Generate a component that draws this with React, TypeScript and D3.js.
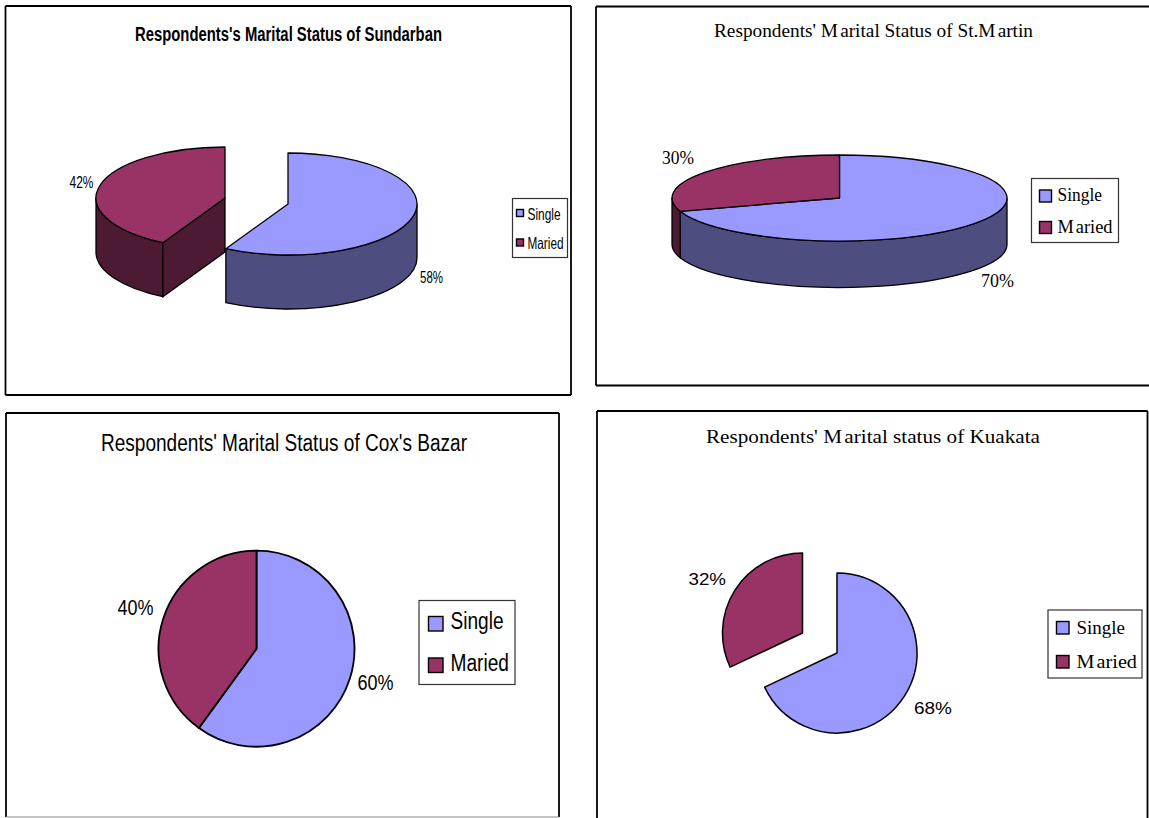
import React from "react";
import * as d3 from "d3";

const categories = ["Single", "Maried"];
const sundarbanValues = [58, 42];
const stMartinValues = [70, 30];
const coxsBazarValues = [60, 40];
const kuakataValues = [68, 32];

const SERIF = "'Liberation Serif', serif";
const SANS = "'Liberation Sans', sans-serif";
const TOP_COLORS = ["#9999ff", "#993366"];
const SIDE_COLORS = ["#4d4d80", "#4d1a33"];

type Label = { x: number; y: number; w: number };
type Legend = {
  box: [number, number, number, number];
  swatch: [number, number, number];
  swatchY: [number, number];
  textX: number;
  baselines: [number, number];
  widths: [number, number];
  size: number;
};
type Side = { stroke: string; width: number } | null;
type Panel = {
  values: number[];
  title: string;
  titleBox: { x: number; y: number; w: number; size: number; weight?: number };
  font: string;
  labelFont: string;
  labelSize: number;
  labels: [Label, Label];
  legendFont: string;
  legend: Legend;
  frame: { left: number; top: number; right: number; bottom: number };
  rightSide: Side;
  bottomSide: Side;
  centers: [[number, number], [number, number]];
  rx: number;
  ry: number;
  depth: number;
  stroke: number;
};

const SOLID: Side = { stroke: "#000", width: 1.8 };

const panels: Panel[] = [
  {
    values: sundarbanValues,
    title: "Respondents's Marital Status of Sundarban",
    titleBox: { x: 135, y: 41, w: 307, size: 19.5, weight: 700 },
    font: SANS,
    labelFont: SANS,
    labelSize: 16,
    labels: [
      { x: 420, y: 282.5, w: 23 },
      { x: 69.5, y: 188, w: 24 },
    ],
    legendFont: SANS,
    legend: {
      box: [512.5, 198.5, 55, 59],
      swatch: [516.5, 0, 7],
      swatchY: [209.5, 239],
      textX: 527.5,
      baselines: [219.5, 249],
      widths: [33, 36],
      size: 16.5,
    },
    frame: { left: 5.5, top: 6, right: 571, bottom: 395 },
    rightSide: SOLID,
    bottomSide: SOLID,
    centers: [
      [288, 204],
      [225, 198],
    ],
    rx: 129,
    ry: 51,
    depth: 54,
    stroke: 1.3,
  },
  {
    values: stMartinValues,
    title: "Respondents' Marital Status of St.Martin",
    titleBox: { x: 714, y: 36.5, w: 319, size: 18 },
    font: SERIF,
    labelFont: SERIF,
    labelSize: 18,
    labels: [
      { x: 981, y: 287, w: 33 },
      { x: 662, y: 164, w: 32 },
    ],
    legendFont: SERIF,
    legend: {
      box: [1031.5, 178.5, 87, 64],
      swatch: [1039.5, 0, 12],
      swatchY: [190, 221.5],
      textX: 1057.5,
      baselines: [201, 232.5],
      widths: [44.5, 55],
      size: 19,
    },
    frame: { left: 596, top: 6.5, right: 1149, bottom: 385.5 },
    rightSide: null,
    bottomSide: SOLID,
    centers: [
      [839.5, 198],
      [839.5, 198],
    ],
    rx: 167.5,
    ry: 43,
    depth: 46.5,
    stroke: 1.3,
  },
  {
    values: coxsBazarValues,
    title: "Respondents' Marital Status of Cox's Bazar",
    titleBox: { x: 101, y: 451, w: 366, size: 23 },
    font: SANS,
    labelFont: SANS,
    labelSize: 22,
    labels: [
      { x: 357.5, y: 690, w: 36 },
      { x: 117.5, y: 615, w: 36 },
    ],
    legendFont: SANS,
    legend: {
      box: [419, 600.5, 96, 84],
      swatch: [428.5, 0, 14.5],
      swatchY: [616.5, 658],
      textX: 450.5,
      baselines: [628.5, 670.5],
      widths: [53, 58.5],
      size: 23,
    },
    frame: { left: 6, top: 413, right: 559, bottom: 817 },
    rightSide: SOLID,
    bottomSide: { stroke: "#888", width: 1 },
    centers: [
      [256.5, 648.7],
      [256.5, 648.7],
    ],
    rx: 98,
    ry: 98,
    depth: 0,
    stroke: 1.8,
  },
  {
    values: kuakataValues,
    title: "Respondents' Marital status of Kuakata",
    titleBox: { x: 706, y: 443, w: 334, size: 18 },
    font: SERIF,
    labelFont: SANS,
    labelSize: 17,
    labels: [
      { x: 914, y: 714, w: 38 },
      { x: 688.5, y: 585, w: 37.5 },
    ],
    legendFont: SERIF,
    legend: {
      box: [1048, 610, 94, 68],
      swatch: [1056.5, 0, 12.5],
      swatchY: [621.5, 655.5],
      textX: 1076.5,
      baselines: [633.5, 667.5],
      widths: [48.5, 60.5],
      size: 19,
    },
    frame: { left: 597, top: 411, right: 1147.5, bottom: 818 },
    rightSide: SOLID,
    bottomSide: null,
    centers: [
      [837, 653],
      [802.5, 633],
    ],
    rx: 80,
    ry: 80,
    depth: 0,
    stroke: 1.5,
  },
];

// Point on the rim of an elliptical pie; the angle runs clockwise from twelve o'clock.
function rim(c: [number, number], rx: number, ry: number, a: number): [number, number] {
  return [c[0] + rx * Math.sin(a), c[1] - ry * Math.cos(a)];
}

function topPath(c: [number, number], rx: number, ry: number, a0: number, a1: number) {
  const [x0, y0] = rim(c, rx, ry, a0);
  const [x1, y1] = rim(c, rx, ry, a1);
  const large = a1 - a0 > Math.PI ? 1 : 0;
  return `M${c[0]},${c[1]}L${x0},${y0}A${rx},${ry} 0 ${large} 1 ${x1},${y1}Z`;
}

// Outer wall of the slice: only the part of the rim that faces the viewer.
function wallPath(c: [number, number], rx: number, ry: number, depth: number, a0: number, a1: number) {
  const from = Math.max(a0, Math.PI / 2);
  const to = Math.min(a1, (3 * Math.PI) / 2);
  if (to <= from) return null;
  const [x0, y0] = rim(c, rx, ry, from);
  const [x1, y1] = rim(c, rx, ry, to);
  return (
    `M${x0},${y0}A${rx},${ry} 0 0 1 ${x1},${y1}` +
    `L${x1},${y1 + depth}A${rx},${ry} 0 0 0 ${x0},${y0 + depth}Z`
  );
}

// Cut face of a pulled-out slice, seen where it turns towards the viewer.
function facePath(c: [number, number], rx: number, ry: number, depth: number, a: number) {
  const [x, y] = rim(c, rx, ry, a);
  return `M${c[0]},${c[1]}L${x},${y}L${x},${y + depth}L${c[0]},${c[1] + depth}Z`;
}

// Fixed-width text, with the small gap this typesetting leaves after a capital M.
function FittedText(props: {
  x: number;
  y: number;
  w: number;
  size: number;
  font: string;
  weight?: number;
  text: string;
  spacedM?: boolean;
}) {
  const { x, y, w, size, font, weight, text, spacedM } = props;
  const parts = spacedM ? text.split(/(?<=M)/) : [text];
  return (
    <text
      x={x}
      y={y}
      textLength={w}
      lengthAdjust="spacingAndGlyphs"
      fontFamily={font}
      fontSize={size}
      fontWeight={weight ?? 400}
      fill="#000"
    >
      {parts.map((p, i) => (
        <tspan key={i} dx={i ? 2 : 0}>
          {p}
        </tspan>
      ))}
    </text>
  );
}

function Frame({ p }: { p: Panel }) {
  const { left, top, right, bottom } = p.frame;
  return (
    <g fill="none">
      <line x1={left} y1={top} x2={right} y2={top} stroke="#000" strokeWidth={SOLID!.width} />
      <line x1={left} y1={top} x2={left} y2={bottom} stroke="#000" strokeWidth={SOLID!.width} />
      {p.rightSide && (
        <line x1={right} y1={top} x2={right} y2={bottom} stroke={p.rightSide.stroke} strokeWidth={p.rightSide.width} />
      )}
      {p.bottomSide && (
        <line x1={left} y1={bottom} x2={right} y2={bottom} stroke={p.bottomSide.stroke} strokeWidth={p.bottomSide.width} />
      )}
    </g>
  );
}

function PieChart({ p }: { p: Panel }) {
  const slices = d3
    .pie<number>()
    .sort(null)
    .value((d) => d)(p.values);
  const circular = p.depth === 0;
  const pullsApart = p.centers[0][0] !== p.centers[1][0];
  const { legend } = p;
  const spaced = p.font === SERIF;

  return (
    <g>
      <Frame p={p} />
      {!circular &&
        slices.map((s, i) => {
          const wall = wallPath(p.centers[i], p.rx, p.ry, p.depth, s.startAngle, s.endAngle);
          return wall ? (
            <path key={i} d={wall} fill={SIDE_COLORS[i]} stroke="#000" strokeWidth={p.stroke} />
          ) : null;
        })}
      {!circular && pullsApart && (
        <path
          d={facePath(p.centers[1], p.rx, p.ry, p.depth, slices[1].startAngle)}
          fill={SIDE_COLORS[1]}
          stroke="#000"
          strokeWidth={p.stroke}
        />
      )}
      {circular
        ? slices.map((s, i) => {
            const arc = d3.arc<d3.PieArcDatum<number>>().innerRadius(0).outerRadius(p.rx);
            return (
              <path
                key={i}
                transform={`translate(${p.centers[i][0]},${p.centers[i][1]})`}
                d={arc(s) ?? ""}
                fill={TOP_COLORS[i]}
                stroke="#000"
                strokeWidth={p.stroke}
                strokeLinejoin="round"
              />
            );
          })
        : slices.map((s, i) => (
            <path
              key={i}
              d={topPath(p.centers[i], p.rx, p.ry, s.startAngle, s.endAngle)}
              fill={TOP_COLORS[i]}
              stroke="#000"
              strokeWidth={p.stroke}
              strokeLinejoin="round"
            />
          ))}

      <FittedText
        x={p.titleBox.x}
        y={p.titleBox.y}
        w={p.titleBox.w}
        size={p.titleBox.size}
        weight={p.titleBox.weight}
        font={p.font}
        text={p.title}
        spacedM={spaced}
      />
      {p.values.map((v, i) => (
        <FittedText
          key={i}
          x={p.labels[i].x}
          y={p.labels[i].y}
          w={p.labels[i].w}
          size={p.labelSize}
          font={p.labelFont}
          text={`${v}%`}
        />
      ))}

      <rect
        x={legend.box[0]}
        y={legend.box[1]}
        width={legend.box[2]}
        height={legend.box[3]}
        fill="#fff"
        stroke="#333"
        strokeWidth={1.2}
      />
      {categories.map((c, i) => (
        <g key={c}>
          <rect
            x={legend.swatch[0]}
            y={legend.swatchY[i]}
            width={legend.swatch[2]}
            height={legend.swatch[2]}
            fill={TOP_COLORS[i]}
            stroke="#000"
            strokeWidth={1.4}
          />
          <FittedText
            x={legend.textX}
            y={legend.baselines[i]}
            w={legend.widths[i]}
            size={legend.size}
            font={p.legendFont}
            text={c}
            spacedM={spaced}
          />
        </g>
      ))}
    </g>
  );
}

export default function App() {
  return (
    <svg
      width={1149}
      height={818}
      viewBox="0 0 1149 818"
      style={{ position: "fixed", left: 0, top: 0, display: "block", background: "#fff" }}
    >
      {panels.map((p) => (
        <PieChart key={p.title} p={p} />
      ))}
    </svg>
  );
}
